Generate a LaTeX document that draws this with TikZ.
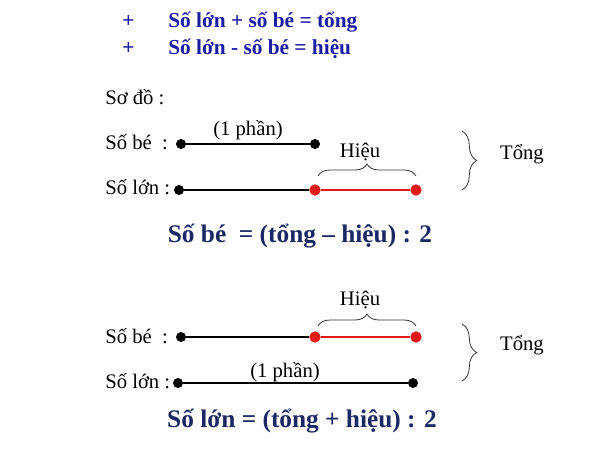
\documentclass[tikz,border=0pt]{standalone}
\usepackage{fontspec}
\setmainfont{Liberation Serif}
\usetikzlibrary{decorations.pathreplacing}
\definecolor{topblue}{RGB}{28,28,165}
\definecolor{navy}{RGB}{28,40,100}
\definecolor{redline}{RGB}{225,25,25}
\tikzset{
  lbl/.style={anchor=base west,inner sep=0pt,font=\fontsize{15.5}{18}\selectfont},
  ctr/.style={anchor=base,inner sep=0pt,font=\fontsize{15.5}{18}\selectfont},
  rule/.style={anchor=base west,inner sep=0pt,text=topblue,font=\fontsize{16}{19}\selectfont\bfseries},
  formula/.style={anchor=base,inner sep=0pt,text=navy,font=\fontsize{19}{23}\selectfont\bfseries},
  bdot/.style={circle,fill=black,inner sep=0pt,minimum size=7.5pt},
  rdot/.style={circle,fill=redline,inner sep=0pt,minimum size=8.5pt},
  seg/.style={line width=0.9pt,black},
  rseg/.style={line width=0.9pt,redline},
  brc/.style={decorate,decoration={brace,amplitude=#1},line width=0.6pt,black!80},
}
\begin{document}
\begin{tikzpicture}[x=0.75pt,y=-0.75pt]
\useasboundingbox (0,0) rectangle (600,474);
% rules
\node[rule] (p1) at (122,28) {+};
\node[rule] (r1) at (168,28) {Số lớn + số bé = tổng};
\node[rule] (p2) at (122,55) {+};
\node[rule] (r2) at (168,55) {Số lớn - số bé = hiệu};
\node[lbl] (sodo) at (105,105) {Sơ đồ :};
% diagram 1
\node[lbl] (be1) at (105,150) {Số bé\ \ :};
\node[lbl] (lon1) at (105,195) {Số lớn :};
\node[bdot] (a1) at (181,144) {};
\node[bdot] (b1) at (315,144) {};
\node[bdot] (c1) at (179,190) {};
\node[rdot] (d1) at (315,190) {};
\node[rdot] (e1) at (416,190) {};
\draw[seg] (a1) -- (b1);
\draw[seg] (c1) -- (d1);
\draw[rseg] (d1) -- (e1);
\node[ctr] (ph1) at (248,136) {(1 phần)};
\coordinate (hb1s) at (318,176);
\coordinate (hb1e) at (416,176);
\draw[brc=9pt] (hb1s) -- (hb1e);
\node[ctr] (h1) at (360,158) {Hiệu};
\coordinate (tb1s) at (462,131);
\coordinate (tb1e) at (462,190);
\draw[brc=11pt] (tb1s) -- (tb1e);
\node[ctr] (t1) at (522,160) {Tổng};
\node[formula] (f1) at (300,243) {Số bé\ \ = (tổng – hiệu) : 2};
% diagram 2
\node[ctr] (h2) at (360,305) {Hiệu};
\coordinate (hb2s) at (318,326);
\coordinate (hb2e) at (416,326);
\draw[brc=9pt] (hb2s) -- (hb2e);
\node[lbl] (be2) at (105,343) {Số bé\ \ :};
\node[lbl] (lon2) at (105,388) {Số lớn :};
\node[bdot] (a2) at (181,337) {};
\node[rdot] (b2) at (315,337) {};
\node[rdot] (c2) at (416,337) {};
\node[bdot] (d2) at (178,383) {};
\node[bdot] (e2) at (413,383) {};
\draw[seg] (a2) -- (b2);
\draw[rseg] (b2) -- (c2);
\draw[seg] (d2) -- (e2);
\node[ctr] (ph2) at (285,377) {(1 phần)};
\coordinate (tb2s) at (462,324);
\coordinate (tb2e) at (462,381);
\draw[brc=11pt] (tb2s) -- (tb2e);
\node[ctr] (t2) at (522,350) {Tổng};
\node[formula] (f2) at (302,427) {Số lớn = (tổng + hiệu) : 2};
\end{tikzpicture}
\end{document}
